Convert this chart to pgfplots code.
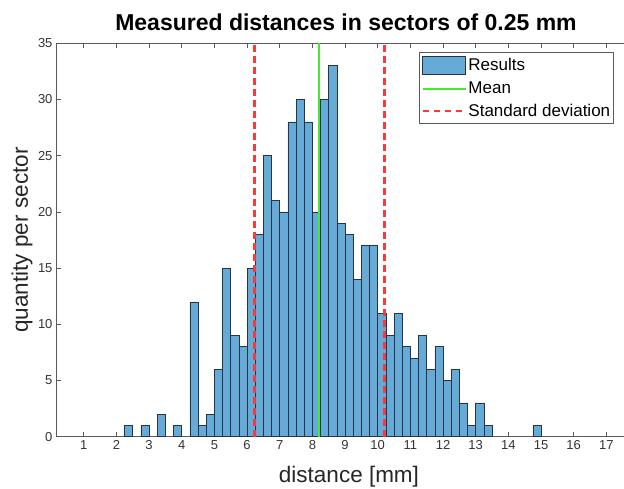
\documentclass[border=0pt]{standalone}
\usepackage{fontspec}
\setmainfont{Liberation Sans}
\usepackage{pgfplots}
\pgfplotsset{compat=1.18}
\definecolor{histfill}{RGB}{102,170,215}
\definecolor{histedge}{RGB}{38,52,68}
\definecolor{meangreen}{RGB}{70,232,50}
\definecolor{stdred}{RGB}{245,60,60}
\definecolor{axgray}{RGB}{90,90,90}
\pgfplotsset{
  boxlegend/.style={legend image code/.code={\draw[##1] (0pt,-8.8pt) rectangle (43pt,8.8pt);}},
  linelegend/.style={legend image code/.code={\draw[##1] (0pt,0pt) -- (43pt,0pt);}},
}

\begin{document}
\begin{tikzpicture}
\useasboundingbox (-56pt,-51.3pt) rectangle (568pt,436.7pt);
\begin{axis}[
  scale only axis, width=568pt, height=393.4pt,
  xmin=0.15, xmax=17.54, ymin=0, ymax=35,
  xtick={1,2,...,17}, ytick={0,5,...,35},
  axis x line=box, axis y line=left,
  axis line style={axgray, line width=0.6pt, -},
  tick style={axgray, line width=0.6pt},
  tick align=inside, major tick length=5pt,
  /pgf/number format/assume math mode=true,
  tick label style={font=\fontsize{13}{15}\selectfont, text=black!80},
  title={\bfseries Measured distances in sectors of 0.25 mm},
  every axis title/.style={font=\fontsize{23}{27}\selectfont, at={(rel axis cs:0.5,1)}, anchor=base,
    xshift=6pt, yshift=13.3pt},
  xlabel={distance [mm]},
  ylabel={quantity per sector},
  every axis x label/.style={font=\fontsize{22.5}{26}\selectfont, text=black!85,
    at={(rel axis cs:0.5,0)}, anchor=base, xshift=9pt, yshift=-46pt},
  every axis y label/.style={font=\fontsize{22.5}{26}\selectfont, text=black!85,
    at={(rel axis cs:0,0.5)}, xshift=-28pt, rotate=90, anchor=base},
  legend style={at={(0.9824,0.978)}, anchor=north east, draw=axgray, line width=0.6pt,
    font=\fontsize{17}{20}\selectfont, row sep=6pt, inner xsep=2pt, inner ysep=4pt,
    column sep=0pt, nodes={inner sep=1.5pt}},
  legend cell align=left,
]
\addplot[ybar, bar width=0.25, bar shift=0, fill=histfill, draw=histedge, line width=0.6pt,
  boxlegend] coordinates {
(2.375,1) (2.875,1) (3.375,2) (3.875,1) (4.375,12) (4.625,1) (4.875,2) (5.125,6)
(5.375,15) (5.625,9) (5.875,8) (6.125,15) (6.375,18) (6.625,25) (6.875,21) (7.125,20)
(7.375,28) (7.625,30) (7.875,28) (8.125,20) (8.375,30) (8.625,33) (8.875,19) (9.125,18)
(9.375,14) (9.625,17) (9.875,17) (10.125,11) (10.375,9) (10.625,11) (10.875,8) (11.125,7)
(11.375,9) (11.625,6) (11.875,8) (12.125,5) (12.375,6) (12.625,3) (12.875,1) (13.125,3)
(13.375,1) (14.875,1)};
\addlegendentry{Results}
\addplot[meangreen, line width=2pt, linelegend] coordinates {(8.215,0) (8.215,35)};
\addlegendentry{Mean}
\addplot[stdred, line width=2.6pt, dash pattern=on 6.5pt off 4.5pt, linelegend] coordinates {(6.22,0) (6.22,35)};
\addlegendentry{Standard deviation}
\addplot[stdred, line width=2.6pt, dash pattern=on 6.5pt off 4.5pt, forget plot] coordinates {(10.21,0) (10.21,35)};
\end{axis}
\end{tikzpicture}
\end{document}
